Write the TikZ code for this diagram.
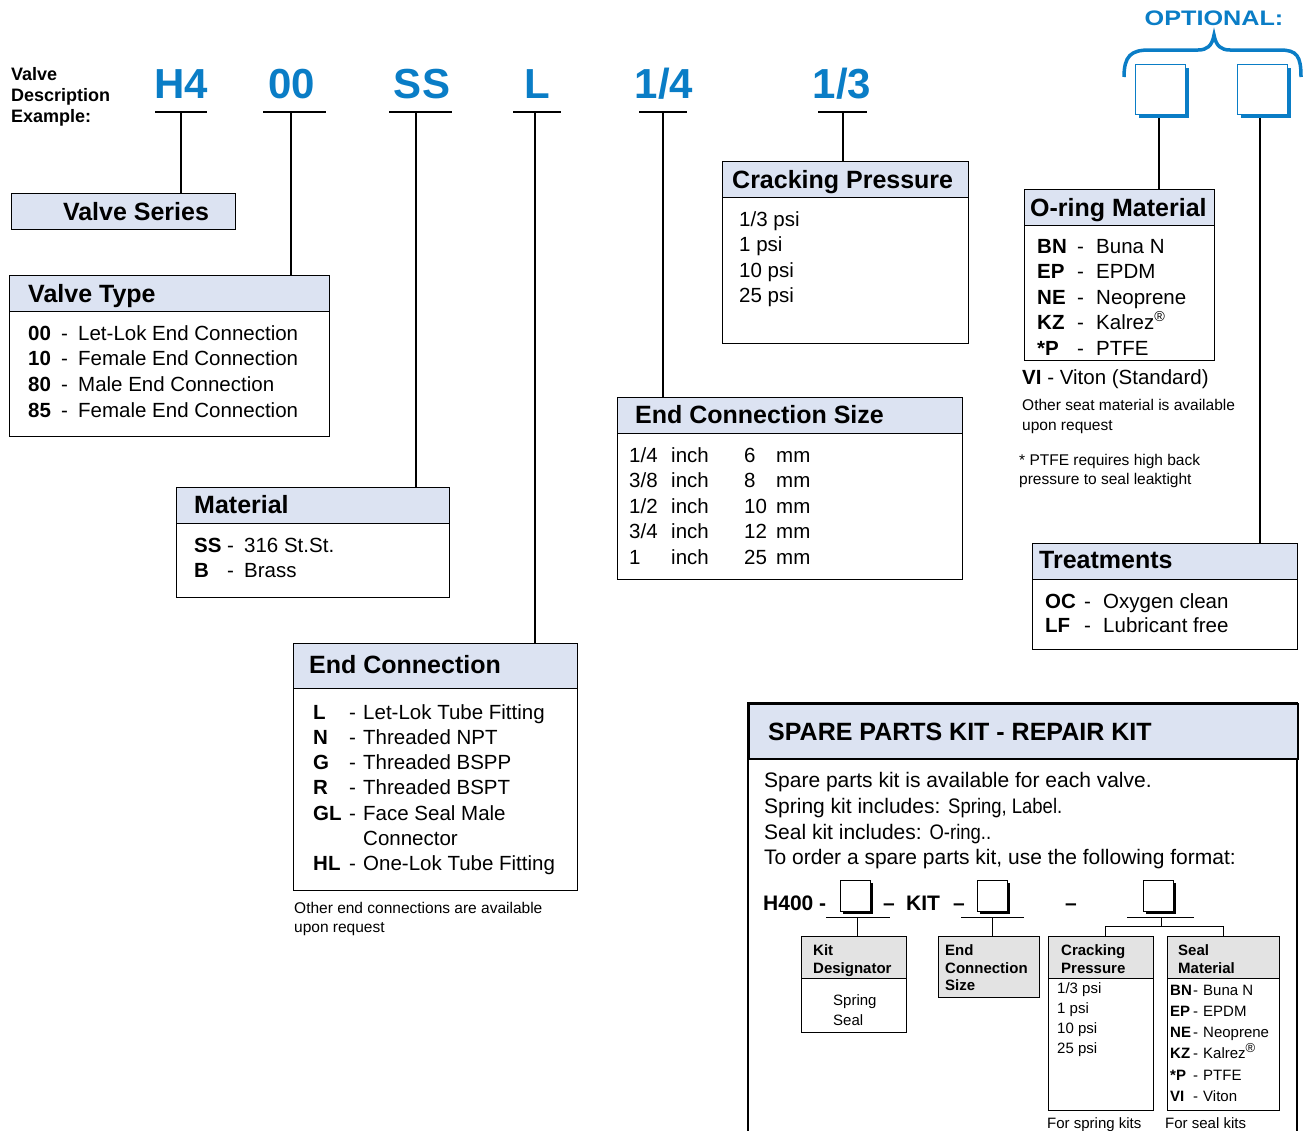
\documentclass[tikz,border=0pt]{standalone}
\usepackage{fontspec}
\setmainfont{Liberation Sans}
\usepackage{graphicx}
\definecolor{vblue}{HTML}{0A7DC6}
\definecolor{hdrfill}{HTML}{DCE3F2}
\definecolor{grayfill}{HTML}{E3E3E3}
\newcommand\fs[1]{\fontsize{#1}{#1}\selectfont}
\begin{document}
\begin{tikzpicture}[x=1pt,y=-1pt,
 frame/.style={draw, line width=1.4pt, inner sep=0, anchor=north west},
 hdrbox/.style={frame, fill=hdrfill},
 kframe/.style={draw, line width=1.2pt, inner sep=0, anchor=north west},
 kgray/.style={kframe, fill=grayfill},
 t/.style={inner sep=0, anchor=base west},
 body/.style={t, font=\fs{20.5}},
 bbody/.style={t, font=\fs{20.5}\bfseries},
 head/.style={t, font=\fs{25}\bfseries},
 big/.style={inner sep=0, anchor=base, font=\fs{42}\bfseries, text=vblue},
 small/.style={t, font=\fs{15.5}},
 ksmall/.style={t, font=\fs{15}},
 kbold/.style={t, font=\fs{15}\bfseries},
 conn/.style={line width=1.3pt},
 optbox/.style={draw=vblue, line width=1pt, fill=white, inner sep=0, anchor=north west, minimum width=50pt, minimum height=50pt},
 kbox/.style={draw, line width=1pt, fill=white, inner sep=0, anchor=north west, minimum width=30pt, minimum height=31pt},
]
\useasboundingbox (0,0) rectangle (1303,1130);

% ---------- top description ----------
\node[t, font=\fs{18}\bfseries] (vd1) at (11,80) {Valve};
\node[t, font=\fs{18}\bfseries] (vd2) at (11,101) {Description};
\node[t, font=\fs{18}\bfseries] (vd3) at (11,122) {Example:};

\node[big] (lH4) at (181,98) {H4};
\node[big] (l00) at (292,98) {00};
\node[big] (lSS) at (422,98) {SS};
\node[big] (lL) at (537,98) {L};
\node[big] (l14) at (664,98) {1/4};
\node[big] (l13) at (842,98) {1/3};

\coordinate (uH4) at (181,112);
\coordinate (u00) at (291,112);
\coordinate (uSS) at (416,112);
\coordinate (uL) at (535,112);
\coordinate (u14) at (663,112);
\coordinate (u13) at (843,112);
\draw[conn] (155,112) -- (207,112);
\draw[conn] (263,112) -- (326,112);
\draw[conn] (389,112) -- (452,112);
\draw[conn] (513,112) -- (561,112);
\draw[conn] (639,112) -- (687,112);
\draw[conn] (818,112) -- (867,112);

% ---------- Valve Series ----------
\node[hdrbox, minimum width=224pt, minimum height=36pt] (vs) at (11,193) {};
\node[t, font=\fs{25}\bfseries, anchor=base] (vst) at (136,220) {Valve Series};

% ---------- Valve Type ----------
\node[frame, minimum width=320pt, minimum height=161pt] (vt) at (9,275) {};
\node[hdrbox, minimum width=320pt, minimum height=36pt] (vth) at (9,275) {};
\node[head] (vtt) at (28,302) {Valve Type};
\foreach \c/\d [count=\i from 0] in {00/Let-Lok End Connection,10/Female End Connection,80/Male End Connection,85/Female End Connection}{
  \node[bbody] (vtc\i) at (28,{340+25.7*\i}) {\c};
  \node[body] (vtd\i) at (61,{340+25.7*\i}) {-};
  \node[body] (vtx\i) at (78,{340+25.7*\i}) {\d};
}

% ---------- Material ----------
\node[frame, minimum width=273pt, minimum height=110pt] (mat) at (176,487) {};
\node[hdrbox, minimum width=273pt, minimum height=36pt] (math) at (176,487) {};
\node[head] (matt) at (194,513) {Material};
\node[bbody] (mc1) at (194,552) {SS};
\node[body] (md1) at (227,552) {-};
\node[body] (mx1) at (244,552) {316 St.St.};
\node[bbody] (mc2) at (194,577) {B};
\node[body] (md2) at (227,577) {-};
\node[body] (mx2) at (244,577) {Brass};

% ---------- End Connection ----------
\node[frame, minimum width=284pt, minimum height=247pt] (ec) at (293,643) {};
\node[hdrbox, minimum width=284pt, minimum height=45pt] (ech) at (293,643) {};
\node[head] (ect) at (309,673) {End Connection};
\foreach \c/\d [count=\i from 0] in {L/Let-Lok Tube Fitting,N/Threaded NPT,G/Threaded BSPP,R/Threaded BSPT,GL/Face Seal Male}{
  \node[bbody] (ecc\i) at (313,{719+25.3*\i}) {\c};
  \node[body] (ecd\i) at (349,{719+25.3*\i}) {-};
  \node[body] (ecx\i) at (363,{719+25.3*\i}) {\d};
}
\node[body] (ecx5) at (363,845) {Connector};
\node[bbody] (ecc6) at (313,870) {HL};
\node[body] (ecd6) at (349,870) {-};
\node[body] (ecx6) at (363,870) {One-Lok Tube Fitting};
\node[small] (ecn1) at (294,913) {Other end connections are available};
\node[small] (ecn2) at (294,932) {upon request};

% ---------- Cracking Pressure ----------
\node[frame, minimum width=246pt, minimum height=182pt] (cp) at (722,161) {};
\node[hdrbox, minimum width=246pt, minimum height=36pt] (cph) at (722,161) {};
\node[head] (cpt) at (732,188) {Cracking Pressure};
\foreach \d [count=\i from 0] in {1/3 psi,1 psi,10 psi,25 psi}{
  \node[body] (cpx\i) at (739,{226+25.5*\i}) {\d};
}

% ---------- End Connection Size ----------
\node[frame, minimum width=345pt, minimum height=182pt] (ecs) at (617,397) {};
\node[hdrbox, minimum width=345pt, minimum height=36pt] (ecsh) at (617,397) {};
\node[head] (ecst) at (635,423) {End Connection Size};
\foreach \a/\b [count=\i from 0] in {{1/4}/6,{3/8}/8,{1/2}/10,{3/4}/12,{1}/25}{
  \node[body] (esa\i) at (629,{462+25.5*\i}) {\a};
  \node[body] (esi\i) at (671,{462+25.5*\i}) {inch};
  \node[body] (esn\i) at (744,{462+25.5*\i}) {\b};
  \node[body] (esm\i) at (776,{462+25.5*\i}) {mm};
}

% ---------- Optional ----------
\node[inner sep=0, anchor=base, font=\fs{21}\bfseries, text=vblue] (opt) at (1214,25) {\scalebox{1.2}[1]{OPTIONAL:}};
\draw[vblue, line width=3.5pt] (1124,77) .. controls (1124,56) and (1131,50) .. (1149,50) -- (1198,50) .. controls (1207,50) and (1212,46) .. (1214,35) .. controls (1216,46) and (1221,50) .. (1230,50) -- (1280,50) .. controls (1297,50) and (1301,56) .. (1301,77);
\fill[vblue] (1139,68) rectangle (1189,118);
\node[optbox] (ob1) at (1135,64) {};
\fill[vblue] (1241,68) rectangle (1291,118);
\node[optbox] (ob2) at (1237,64) {};

% ---------- O-ring Material ----------
\node[frame, minimum width=190pt, minimum height=171pt] (om) at (1024,189) {};
\node[hdrbox, minimum width=190pt, minimum height=36pt] (omh) at (1024,189) {};
\node[head] (omt) at (1030,216) {O-ring Material};
\foreach \c/\d [count=\i from 0] in {BN/Buna N,EP/EPDM,NE/Neoprene,KZ/Kalrez\textsuperscript{®},*P/PTFE}{
  \node[bbody] (omc\i) at (1037,{253+25.5*\i}) {\c};
  \node[body] (omd\i) at (1077,{253+25.5*\i}) {-};
  \node[body] (omx\i) at (1096,{253+25.5*\i}) {\d};
}
\node[body] (vi) at (1022,384) {\textbf{VI} - Viton (Standard)};
\node[small] (on1) at (1022,410) {Other seat material is available};
\node[small] (on2) at (1022,430) {upon request};
\node[small] (on3) at (1019,465) {* PTFE requires high back};
\node[small] (on4) at (1019,484) {pressure to seal leaktight};

% ---------- Treatments ----------
\node[frame, minimum width=265pt, minimum height=106pt] (tr) at (1032,543) {};
\node[hdrbox, minimum width=265pt, minimum height=36pt] (trh) at (1032,543) {};
\node[head] (trt) at (1039,568) {Treatments};
\node[bbody] (trc1) at (1045,608) {OC};
\node[body] (trd1) at (1084,608) {-};
\node[body] (trx1) at (1103,608) {Oxygen clean};
\node[bbody] (trc2) at (1045,632) {LF};
\node[body] (trd2) at (1084,632) {-};
\node[body] (trx2) at (1103,632) {Lubricant free};

% ---------- connectors ----------
\draw[conn] (uH4) -- (uH4 |- vs.north);
\draw[conn] (u00) -- (u00 |- vt.north);
\draw[conn] (uSS) -- (uSS |- mat.north);
\draw[conn] (uL) -- (uL |- ec.north);
\draw[conn] (u14) -- (u14 |- ecs.north);
\draw[conn] (u13) -- (u13 |- cp.north);
\coordinate (uo1) at (1159,118);
\coordinate (uo2) at (1260,118);
\draw[conn] (uo1) -- (uo1 |- om.north);
\draw[conn] (uo2) -- (uo2 |- tr.north);

% ---------- Spare parts kit ----------
\draw[line width=1.5pt] (748,1135) |- (1297,703) -- (1297,1135);
\node[draw, line width=1.5pt, fill=hdrfill, inner sep=0, anchor=north west, minimum width=549pt, minimum height=55pt] (sph) at (748,703) {};
\node[t, font=\fs{25}\bfseries] (spt) at (768,740) {SPARE PARTS KIT - REPAIR KIT};
\node[t, font=\fs{21}] (sp1) at (764,787) {Spare parts kit is available for each valve.};
\node[t, font=\fs{21}] (sp2) at (764,813) {Spring kit includes: \scalebox{0.88}[1]{Spring, Label.}};
\node[t, font=\fs{21}] (sp3) at (764,839) {Seal kit includes: \scalebox{0.88}[1]{O-ring..}};
\node[t, font=\fs{21}] (sp4) at (764,864) {To order a spare parts kit, use the following format:};

\node[t, font=\fs{21}\bfseries] (h400) at (763,910) {H400 -};
\fill (843,883) rectangle (873,914);
\node[kbox] (kb1) at (840,880) {};
\node[t, font=\fs{21}\bfseries] (kd1) at (883,910) {–};
\node[t, font=\fs{21}\bfseries] (kit) at (906,910) {KIT};
\node[t, font=\fs{21}\bfseries] (kd2) at (953,910) {–};
\fill (980,883) rectangle (1010,914);
\node[kbox] (kb2) at (977,880) {};
\node[t, font=\fs{21}\bfseries] (kd3) at (1065,910) {–};
\fill (1146,883) rectangle (1176,914);
\node[kbox] (kb3) at (1143,880) {};

\draw[line width=1pt] (826,917) -- (890,917);
\draw[line width=1pt] (961,917) -- (1024,917);
\draw[line width=1pt] (1127,917) -- (1194,917);

% Kit designator
\node[kframe, minimum width=105pt, minimum height=96pt] (kdg) at (801,936) {};
\node[kgray, minimum width=105pt, minimum height=42pt] (kdgh) at (801,936) {};
\node[kbold] (kdg1) at (813,955) {Kit};
\node[kbold] (kdg2) at (813,973) {Designator};
\node[ksmall] (kdg3) at (833,1005) {Spring};
\node[ksmall] (kdg4) at (833,1025) {Seal};

% End connection size
\node[kgray, minimum width=101pt, minimum height=61pt] (kes) at (938,936) {};
\node[kbold] (kes1) at (945,955) {End};
\node[kbold] (kes2) at (945,973) {Connection};
\node[kbold] (kes3) at (945,990) {Size};

% Cracking pressure
\node[kframe, minimum width=105pt, minimum height=174pt] (kcp) at (1048,936) {};
\node[kgray, minimum width=105pt, minimum height=42pt] (kcph) at (1048,936) {};
\node[kbold] (kcp1) at (1061,955) {Cracking};
\node[kbold] (kcp2) at (1061,973) {Pressure};
\foreach \d [count=\i from 0] in {1/3 psi,1 psi,10 psi,25 psi}{
  \node[ksmall] (kcpx\i) at (1057,{993+20.3*\i}) {\d};
}

% Seal material
\node[kframe, minimum width=112pt, minimum height=174pt] (ksm) at (1167,936) {};
\node[kgray, minimum width=112pt, minimum height=42pt] (ksmh) at (1167,936) {};
\node[kbold] (ksm1) at (1178,955) {Seal};
\node[kbold] (ksm2) at (1178,973) {Material};
\foreach \c/\d [count=\i from 0] in {BN/Buna N,EP/EPDM,NE/Neoprene,KZ/Kalrez\raisebox{6pt}{\fs{13}®},*P/PTFE,VI/Viton}{
  \node[kbold] (ksc\i) at (1170,{995+21.3*\i}) {\c};
  \node[ksmall] (ksd\i) at (1193,{995+21.3*\i}) {-};
  \node[ksmall] (ksx\i) at (1203,{995+21.3*\i}) {\d};
}
\node[ksmall] (kf1) at (1047,1128) {For spring kits};
\node[ksmall] (kf2) at (1165,1128) {For seal kits};

% kit connectors
\coordinate (kc1) at (857,917);
\coordinate (kc2) at (992,917);
\coordinate (kc3) at (1161,917);
\coordinate (kj) at (1161,926);
\draw[line width=1pt] (kc1) -- (kc1 |- kdg.north);
\draw[line width=1pt] (kc2) -- (kc2 |- kes.north);
\draw[line width=1pt] (kc3) -- (kj);
\draw[line width=1pt] (kj) -| ([xshift=57pt]kcp.north west);
\draw[line width=1pt] (kj) -| ([xshift=56pt]ksm.north west);
\end{tikzpicture}
\end{document}
